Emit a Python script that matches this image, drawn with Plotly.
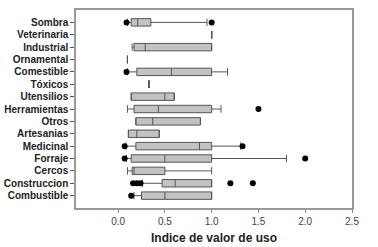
import plotly.graph_objects as go

categories = ["Combustible", "Construccion", "Cercos", "Forraje", "Medicinal",
              "Artesanias", "Otros", "Herramientas", "Utensilios", "Tóxicos",
              "Comestible", "Ornamental", "Industrial", "Veterinaria", "Sombra"]
lower = [0.17, 0.26, 0.10, 0.09, 0.085, 0.11, 0.19, 0.10, 0.14, 0.33, 0.10, 0.10, 0.15, 1.00, 0.10]
q1 =    [0.25, 0.47, 0.15, 0.14, 0.19, 0.11, 0.19, 0.17, 0.14, 0.33, 0.20, 0.10, 0.17, 1.00, 0.14]
median =[0.50, 0.61, 0.17, 0.50, 0.87, 0.20, 0.37, 0.43, 0.50, 0.33, 0.57, 0.10, 0.29, 1.00, 0.21]
q3 =    [1.00, 1.00, 0.50, 1.00, 1.00, 0.44, 0.88, 1.00, 0.60, 0.33, 1.00, 0.10, 1.00, 1.00, 0.35]
upper = [1.00, 1.00, 1.00, 1.80, 1.31, 0.44, 0.88, 1.10, 0.60, 0.33, 1.17, 0.10, 1.00, 1.00, 0.95]

outlier_cat = ["Combustible", "Construccion", "Construccion", "Construccion", "Construccion",
               "Construccion", "Forraje", "Forraje", "Medicinal", "Medicinal",
               "Herramientas", "Comestible", "Sombra", "Sombra"]
outlier_val = [0.14, 0.16, 0.20, 0.24, 1.20, 1.44, 0.07, 2.00, 0.07, 1.33, 1.50, 0.09, 0.09, 1.00]

xticks = [0.0, 0.5, 1.0, 1.5, 2.0, 2.5]
xticklabels = ["0.0", "0.5", "1.0", "1.5", "2.0", "2.5"]

fig = go.Figure()
fig.add_trace(go.Box(
    y=categories, q1=q1, median=median, q3=q3,
    lowerfence=lower, upperfence=upper,
    orientation="h", boxpoints=False,
    fillcolor="#c2c2c2", line=dict(color="#555555", width=1),
    width=0.6, whiskerwidth=1, showlegend=False,
))
fig.add_trace(go.Scatter(
    x=outlier_val, y=outlier_cat, mode="markers",
    marker=dict(color="black", size=6), showlegend=False,
))

fig.update_layout(
    width=378, height=247,
    margin=dict(l=76, r=26, t=10, b=39, autoexpand=False),
    paper_bgcolor="white", plot_bgcolor="white",
    font=dict(family="Arial", color="#222222"),
    xaxis=dict(
        range=[-0.45, 2.5], tickmode="array", tickvals=xticks, ticktext=xticklabels,
        ticks="outside", ticklen=3, tickcolor="#888888",
        tickfont=dict(family="Arial", size=10, color="#444444"),
        showgrid=False, zeroline=False, automargin=False,
        showline=True, linecolor="#999999", linewidth=1.5, mirror=True,
        title=dict(text="<b>Indice de valor de uso</b>", font=dict(family="Arial", size=12, color="#222222"), standoff=8),
    ),
    yaxis=dict(
        type="category", categoryorder="array", categoryarray=categories,
        tickmode="array", tickvals=categories,
        ticktext=["<b>" + c + "</b>" for c in categories],
        range=[-1, 15], ticks="outside", ticklen=4, tickcolor="#555555",
        tickfont=dict(family="Arial", size=10, color="#222222"),
        showgrid=False, zeroline=False, automargin=False,
        showline=True, linecolor="#999999", linewidth=1.5, mirror=True,
    ),
)

fig.write_html("out.html", config={"displayModeBar": False},
               post_script="document.body.style.margin='0';")
